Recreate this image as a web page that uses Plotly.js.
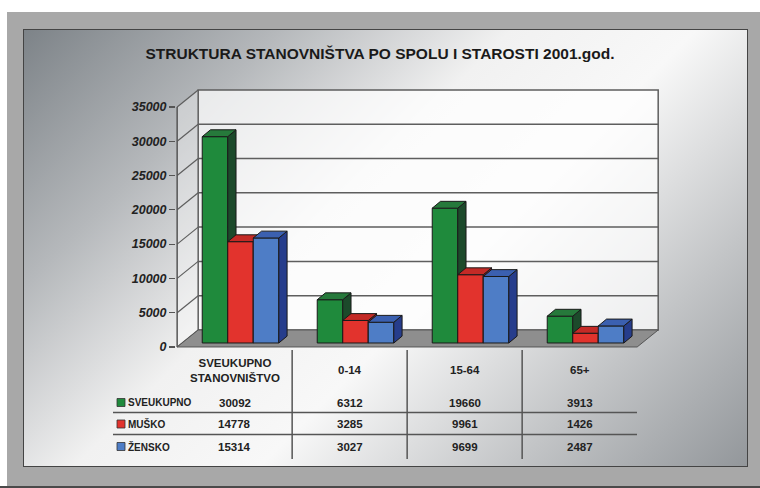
<!DOCTYPE html>
<html>
<head>
<meta charset="utf-8">
<script src="https://cdn.plot.ly/plotly-3.0.1.min.js"></script>
<style>
  html, body { margin: 0; padding: 0; background: #ffffff; }
  #wrap { position: relative; width: 760px; height: 488px; overflow: hidden; background: #ffffff; }
  #outer { position: absolute; left: 7px; top: 12px; width: 753px; height: 474px; background: #a8a8a8; }
  #bottomstrip { position: absolute; left: 0; top: 486px; width: 760px; height: 2px; background: #4a4a4a; }
  #inner { position: absolute; left: 23px; top: 29px; width: 723px; height: 436px;
           border: 1.5px solid #444;
           background: linear-gradient(135deg, #7d8388 0%, #b5b8bb 22%, #f1f1f1 42%, #f8f8f8 58%, #c2c4c6 80%, #93979b 100%); }
  #chart { position: absolute; left: 0; top: 0; width: 760px; height: 488px; }
</style>
</head>
<body>
<div id="wrap">
  <div id="outer"></div>
  <div id="inner"></div>
  <div id="bottomstrip"></div>
  <div id="chart"></div>
</div>
<script>
// ---------------- DATA ----------------
const categories = ['SVEUKUPNO<br>STANOVNIŠTVO', '0-14', '15-64', '65+'];
const seriesNames = ['SVEUKUPNO', 'MUŠKO', 'ŽENSKO'];
const sveukupno = [30092, 6312, 19660, 3913];
const musko = [14778, 3285, 9961, 1426];
const zensko = [15314, 3027, 9699, 2487];
const yTickValues = [0, 5000, 10000, 15000, 20000, 25000, 30000, 35000];
const chartTitle = 'STRUKTURA STANOVNIŠTVA PO SPOLU I STAROSTI 2001.god.';

// ---------------- STYLE / GEOMETRY ----------------
const series = [sveukupno, musko, zensko];
const frontColors = ['#1f8a3c', '#e2332d', '#4e7dc6'];
const topColors = ['#26793b', '#c42a26', '#3b60b0'];
const sideColors = ['#1c4a2b', '#931d1b', '#263d8c'];

const BAR_W = 0.222;      // bar width in category units
const BAR_DX = 0.072;     // bar depth (x)
const BAR_DY = 1000;      // bar depth (y, value units)
const BASE = 580;         // bars sit slightly back on the floor
const WALL_DX = 0.183;    // wall depth (x)
const WALL_DY = 2480;     // wall depth (y)
const X_LEFT = -0.551;
const X_RIGHT = 3.449;
const Y_TOP = 35000;

const L = 176, PW = 483, PLOT_BOTTOM = 348, PH = 259;
const px2paperX = X => (X - L) / PW;
const px2paperY = Y => (PLOT_BOTTOM - Y) / PH;

const traces = [];
series.forEach((vals, s) => {
  const xs = vals.map((v, i) => i + (s - 1) * BAR_W);
  // front faces
  traces.push({
    type: 'bar', x: xs, y: vals, base: vals.map(() => BASE), width: BAR_W,
    marker: { color: frontColors[s], line: { color: '#1a1a1a', width: 1 } },
    name: seriesNames[s], showlegend: false, hoverinfo: 'skip', zorder: 3 * s
  });
  const tx = [], ty = [];
  const sx = [], sy = [];
  vals.forEach((v, i) => {
    const xl = xs[i] - BAR_W / 2, xr = xs[i] + BAR_W / 2;
    const h = BASE + v;
    tx.push(xl, xr, xr + BAR_DX, xl + BAR_DX, xl, null);
    ty.push(h, h, h + BAR_DY, h + BAR_DY, h, null);
    sx.push(xr, xr + BAR_DX, xr + BAR_DX, xr, xr, null);
    sy.push(BASE, BASE + BAR_DY, h + BAR_DY, h, BASE, null);
  });
  // side faces
  traces.push({
    type: 'scatter', mode: 'lines', x: sx, y: sy, fill: 'toself', fillcolor: sideColors[s],
    line: { color: '#1a1a1a', width: 1 }, connectgaps: false,
    showlegend: false, hoverinfo: 'skip', zorder: 3 * s + 1
  });
  // top faces
  traces.push({
    type: 'scatter', mode: 'lines', x: tx, y: ty, fill: 'toself', fillcolor: topColors[s],
    line: { color: '#1a1a1a', width: 1 }, connectgaps: false,
    showlegend: false, hoverinfo: 'skip', zorder: 3 * s + 2
  });
});

// ---------------- 3D frame shapes ----------------
const shapes = [];
const gridCol = '#5e5e5e';
shapes.push({
  type: 'path', xref: 'x', yref: 'y', layer: 'below',
  path: `M ${X_LEFT},0 L ${X_LEFT + WALL_DX},${WALL_DY} L ${X_LEFT + WALL_DX},${Y_TOP + WALL_DY} L ${X_LEFT},${Y_TOP} Z`,
  fillcolor: 'rgba(255,255,255,0.35)', line: { width: 0 }
});
shapes.push({
  type: 'rect', xref: 'x', yref: 'y', layer: 'below',
  x0: X_LEFT + WALL_DX, x1: X_RIGHT + WALL_DX, y0: WALL_DY, y1: Y_TOP + WALL_DY,
  fillcolor: 'rgba(255,255,255,0.72)', line: { color: gridCol, width: 1.5 }
});
yTickValues.forEach(v => {
  if (v > 0 && v < Y_TOP) {
    shapes.push({ type: 'line', xref: 'x', yref: 'y', layer: 'below',
      x0: X_LEFT + WALL_DX, x1: X_RIGHT + WALL_DX, y0: v + WALL_DY, y1: v + WALL_DY,
      line: { color: gridCol, width: 1.5 } });
  }
  shapes.push({ type: 'line', xref: 'x', yref: 'y', layer: 'below',
    x0: X_LEFT, x1: X_LEFT + WALL_DX, y0: v, y1: v + WALL_DY,
    line: { color: gridCol, width: 1.2 } });
});
shapes.push({
  type: 'path', xref: 'x', yref: 'y', layer: 'below',
  path: `M ${X_LEFT},0 L ${X_RIGHT},0 L ${X_RIGHT + WALL_DX},${WALL_DY} L ${X_LEFT + WALL_DX},${WALL_DY} Z`,
  fillcolor: '#8e8e8e', line: { color: '#555', width: 1 }
});
shapes.push({ type: 'line', xref: 'x', yref: 'y', layer: 'below',
  x0: X_LEFT, x1: X_LEFT, y0: 0, y1: Y_TOP, line: { color: '#555', width: 1.5 } });

// ---------------- data table ----------------
const annotations = [];
const headFont = { family: 'Liberation Sans, Arial, sans-serif', size: 11.5, color: '#222', weight: 'bold' };
const valFont = { family: 'Liberation Sans, Arial, sans-serif', size: 11.5, color: '#222', weight: 'bold' };
const rowFont = { family: 'Liberation Sans, Arial, sans-serif', size: 10, color: '#222', weight: 'bold' };
const rowY = [402.5, 424, 446.5];

categories.forEach((c, i) => {
  annotations.push({ xref: 'x', yref: 'paper', x: i - 0.051, y: px2paperY(370),
    text: c, showarrow: false, font: headFont, xanchor: 'center', yanchor: 'middle', align: 'center' });
});
series.forEach((vals, s) => {
  annotations.push({ xref: 'paper', yref: 'paper', x: px2paperX(126), y: px2paperY(rowY[s]),
    text: seriesNames[s], showarrow: false, font: rowFont, xanchor: 'left', yanchor: 'middle' });
  shapes.push({ type: 'rect', xref: 'paper', yref: 'paper',
    x0: px2paperX(117), x1: px2paperX(125), y0: px2paperY(rowY[s] - 4), y1: px2paperY(rowY[s] + 4),
    fillcolor: frontColors[s], line: { color: '#333', width: 0.8 } });
  vals.forEach((v, i) => {
    annotations.push({ xref: 'x', yref: 'paper', x: i - 0.051, y: px2paperY(rowY[s]),
      text: String(v), showarrow: false, font: valFont, xanchor: 'center', yanchor: 'middle' });
  });
});
[412.5, 434.5].forEach(Y => {
  shapes.push({ type: 'line', xref: 'paper', yref: 'paper',
    x0: px2paperX(113), x1: px2paperX(637), y0: px2paperY(Y), y1: px2paperY(Y),
    line: { color: '#555', width: 1.5 } });
});
[0, 1, 2].forEach(i => {
  shapes.push({ type: 'line', xref: 'x', yref: 'paper',
    x0: i + 0.449, x1: i + 0.449, y0: px2paperY(350), y1: px2paperY(459),
    line: { color: '#555', width: 1.5 } });
});

const layout = {
  width: 760, height: 488,
  margin: { l: L, r: 760 - L - PW, t: PLOT_BOTTOM - PH, b: 488 - PLOT_BOTTOM },
  paper_bgcolor: 'rgba(0,0,0,0)', plot_bgcolor: 'rgba(0,0,0,0)',
  barmode: 'overlay',
  showlegend: false,
  title: { text: chartTitle, x: 0.5, xanchor: 'center', y: 1 - 54 / 488, yanchor: 'middle',
    font: { family: 'Liberation Sans, Arial, sans-serif', size: 15.5, color: '#1a1a1a', weight: 'bold' } },
  xaxis: { range: [X_LEFT - 0.01, X_LEFT - 0.01 + PW / 115], visible: false, fixedrange: true },
  yaxis: {
    range: [-150, -150 + PH / (240 / 35000)],
    tickvals: yTickValues, ticktext: yTickValues.map(v => '<i>' + v + '</i>'),
    ticks: 'outside', ticklen: 6, tickcolor: '#555', tickwidth: 1.2,
    showgrid: false, zeroline: false, showline: false, fixedrange: true,
    tickfont: { family: 'Liberation Sans, Arial, sans-serif', size: 12.5, color: '#222', weight: 'bold' }
  },
  shapes: shapes,
  annotations: annotations
};

Plotly.newPlot('chart', traces, layout, { displayModeBar: false, staticPlot: true });
</script>
</body>
</html>
